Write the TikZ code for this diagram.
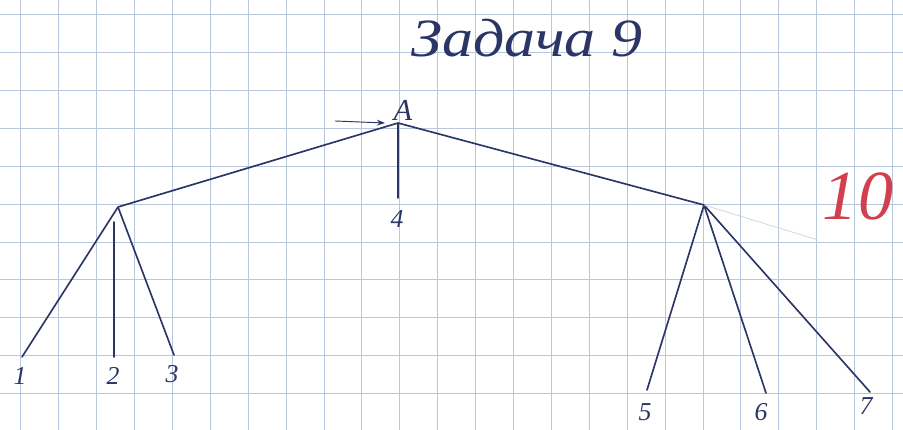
\documentclass[tikz,border=0pt]{standalone}
\usepackage{fontspec}
\setmainfont{Liberation Serif}
\usepackage{xcolor}
\usetikzlibrary{arrows.meta, positioning}

\definecolor{ink}{HTML}{2B3566}
\definecolor{gridblue}{HTML}{B9C7DD}
\definecolor{markred}{HTML}{D0404E}

\begin{document}
\begin{tikzpicture}[
    x=0.03cm, y=-0.03cm,
    gridline/.style={draw=gridblue, line width=0.6pt},
    edge/.style={draw=ink, line width=1.4pt, line cap=round},
    faint/.style={draw=gray!35, line width=0.6pt},
    vertex/.style={inner sep=0pt, minimum size=0pt},
    leaflabel/.style={text=ink, font=\fontsize{22}{26}\selectfont\itshape, inner sep=1pt}
]
% paper
\useasboundingbox (0,0) rectangle (903,430);
\fill[white] (0,0) rectangle (903,430);
\foreach \i in {0,...,23}
    \draw[gridline] ({20.7+37.9*\i},0) -- ++(0,430);
\foreach \j in {0,...,11}
    \draw[gridline] (0,{14.5+37.9*\j}) -- ++(903,0);

% title and mark
\node[text=ink, xscale=1.15, font=\fontsize{46}{52}\selectfont\itshape] (title) at (527,38) {Задача 9};
\node[text=markred, font=\fontsize{60}{66}\selectfont\itshape] (mark) at (858,196) {10};

% vertices
\node[vertex] (A) at (398,123) {};
\node[vertex] (L) at (118,207) {};
\node[vertex] (R) at (704,205) {};
\coordinate (l1) at (22,357);
\coordinate (l2) at (114,357);
\coordinate (l3) at (174,355);
\coordinate (l4) at (398,198);
\coordinate (l5) at (647,390);
\coordinate (l6) at (766,393);
\coordinate (l7) at (870,392);
\coordinate (in) at (335,121);
\coordinate (inend) at (385,123);
\coordinate (tick) at (818,240);

% edges
\draw[edge] (A) -- (L);
\draw[edge] (A) -- (R);
\draw[edge] (A) -- (l4);
\draw[edge] (L) -- (l1);
\draw[edge] (114,222) -- (l2);
\draw[edge] (L) -- (l3);
\draw[edge] (R) -- (l5);
\draw[edge] (R) -- (l6);
\draw[edge] (R) -- (l7);
\draw[draw=ink, line width=0.8pt, -{Stealth[length=7pt, width=5pt]}] (in) -- (inend);
\draw[faint] (R) -- (tick);

% labels
\node[text=ink, font=\fontsize{26}{30}\selectfont\itshape] (Alabel) at (403,110) {A};
\node[leaflabel] (n1) at (20,376) {1};
\node[leaflabel] (n2) at (113,376) {2};
\node[leaflabel] (n3) at (172,374) {3};
\node[leaflabel] (n4) at (397,219) {4};
\node[leaflabel] (n5) at (645,412) {5};
\node[leaflabel] (n6) at (761,412) {6};
\node[leaflabel] (n7) at (866,406) {7};

\end{tikzpicture}
\end{document}
